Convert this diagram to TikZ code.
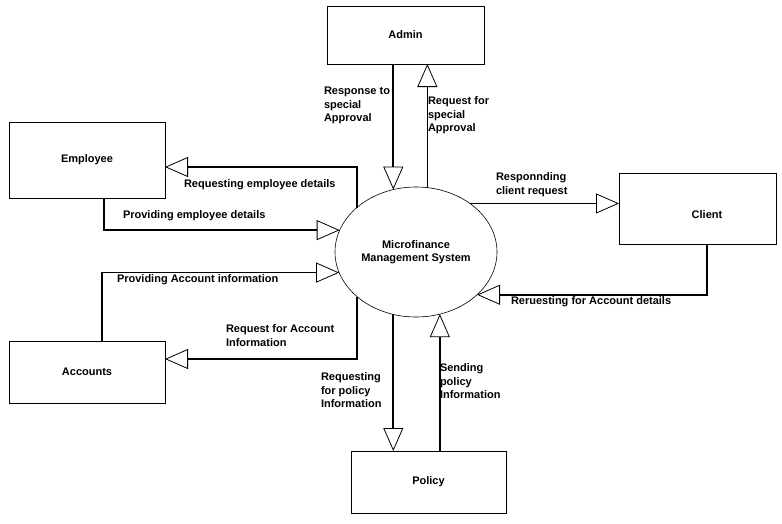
\documentclass[tikz,border=0pt]{standalone}
\usepackage{fontspec}
\setmainfont{Liberation Sans}
\usetikzlibrary{shapes.geometric,arrows.meta}
\begin{document}
\begin{tikzpicture}[x=1pt,y=-1pt,
  txt/.style={font=\fontsize{11}{13.5}\selectfont\bfseries},
  box/.style={draw, line width=0.8pt, inner sep=0pt, outer sep=0pt, txt},
  flow/.style={line width=1.6pt, -{Triangle[open, length=23pt, width=20pt, line width=0.8pt]}},
  lbl/.style={anchor=north west, inner sep=0pt, outer sep=0pt, align=left, txt}]
\useasboundingbox (0,0) rectangle (782,523);
% nodes
\node[box, minimum width=157pt, minimum height=58pt] (admin) at (405.5,35) {Admin};
\node[box, minimum width=156pt, minimum height=76pt] (emp) at (87,160) {Employee};
\node[box, minimum width=157pt, minimum height=71pt,
      label={[txt, inner sep=0pt, xshift=9.5pt, yshift=-6.5pt]center:Client}] (client) at (697.5,208.5) {};
\node[box, minimum width=156pt, minimum height=62pt] (acc) at (87,372) {Accounts};
\node[box, minimum width=155pt, minimum height=62pt] (policy) at (428.5,482) {Policy};
\node[draw, ellipse, line width=0.6pt, minimum width=162pt, minimum height=130pt,
      inner sep=0pt, outer sep=0pt, align=center, txt] (ell) at (416,252)
      {Microfinance\\Management System};
% connectors
\draw[flow] (ell.110.3 |- admin.south) -- (ell.110.3);
\draw[flow] (ell.80.3) -- (ell.80.3 |- admin.south);
\draw[flow] (ell.143) |- ([yshift=-7pt]emp.east);
\draw[flow] ([xshift=17pt]emp.south) |- (ell.164.7);
\draw[flow] ([xshift=15pt]acc.north) |- (ell.195.3);
\draw[flow] (ell.217) |- ([yshift=13pt]acc.east);
\draw[flow] (ell.42.6) -- (ell.42.6 -| client.west);
\draw[flow] ([xshift=9.5pt]client.south) |- (ell.-35.3);
\draw[flow] (ell.-110.3) -- (ell.-110.3 |- policy.north);
\draw[flow] (ell.-69.7 |- policy.north) -- (ell.-69.7);
% labels
\node[lbl] (l1) at (324,87) {Response to\\special\\Approval};
\node[lbl] (l2) at (428,97) {Request for\\special\\Approval};
\node[lbl] (l3) at (184,180) {Requesting employee details};
\node[lbl] (l4) at (123,211) {Providing employee details};
\node[lbl] (l5) at (496,173) {Responnding\\client request};
\node[lbl] (l6) at (511,297) {Reruesting for Account details};
\node[lbl] (l7) at (117,275) {Providing Account information};
\node[lbl] (l8) at (226,325) {Request for Account\\Information};
\node[lbl] (l9) at (321,373) {Requesting\\for policy\\Information};
\node[lbl] (l10) at (440,364) {Sending\\policy\\Information};
\end{tikzpicture}
\end{document}
